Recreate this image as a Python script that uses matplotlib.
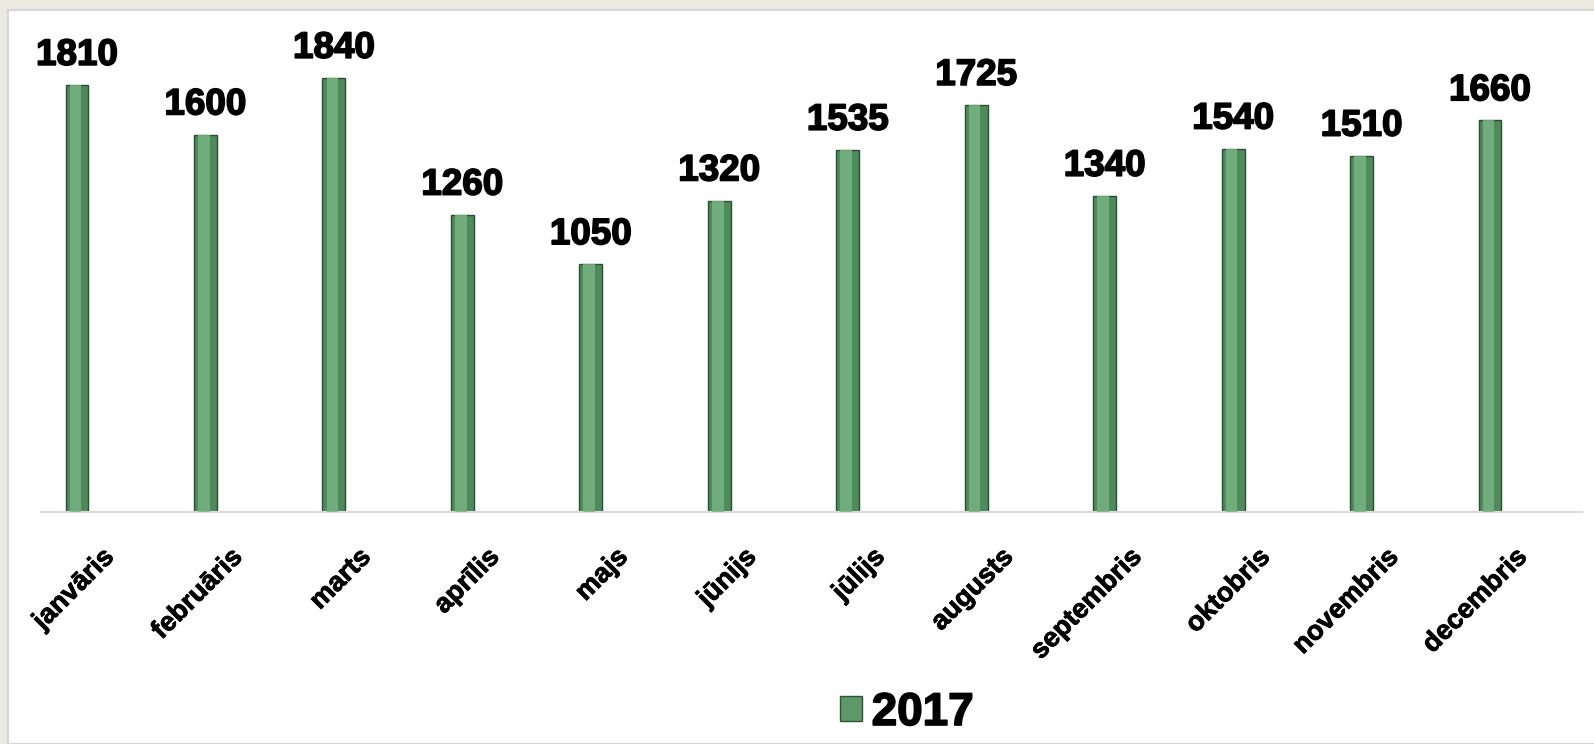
import numpy as np
import matplotlib.pyplot as plt
import matplotlib.patheffects as pe
from matplotlib.patches import Rectangle, Patch
from matplotlib.transforms import ScaledTranslation

# dati
menesi = ['janvāris', 'februāris', 'marts', 'aprīlis', 'majs', 'jūnijs',
          'jūlijs', 'augusts', 'septembris', 'oktobris', 'novembris', 'decembris']
vertibas = [1810, 1600, 1840, 1260, 1050, 1320, 1535, 1725, 1340, 1540, 1510, 1660]
gads = '2017'

plt.rcParams['font.family'] = ['Liberation Sans', 'DejaVu Sans']
trekns = [pe.withStroke(linewidth=1.2, foreground='black')]

fig = plt.figure(figsize=(15.94, 7.44), dpi=100)
fig.patch.set_facecolor('#eaeae0')

# balts laukums ar pelēku maliņu
W, H = 1594.0, 744.0
fig.patches.append(Rectangle((8 / W, 0), 1, 1 - 10 / H, transform=fig.transFigure,
                             facecolor='white', edgecolor='#d6d6d6', linewidth=1.5, zorder=-5))

ax = fig.add_axes([41 / W, 1 - 512 / H, (1582 - 41) / W, (512 - 10) / H])
ax.set_facecolor('none')

x = np.arange(len(menesi))
ax.bar(x, vertibas, width=0.178, color='#4f8a5a', edgecolor='#2a4f30', linewidth=1.0, zorder=2)
# gaišāka svītra, lai izskatās kā cilindrs
ax.bar(x - 0.012, vertibas, width=0.09, color='#78b483', linewidth=0, alpha=0.85, zorder=3)

ax.set_xlim(-0.28, 11.716)
ax.set_ylim(0, (512 - 10) / 0.2359)

for xi, v in zip(x, vertibas):
    ax.annotate(str(v), (xi, v), xytext=(0, 14.5), textcoords='offset points',
                ha='center', va='baseline', fontsize=26.5, fontweight='bold', color='black',
                path_effects=trekns)

for s in ['top', 'right', 'left']:
    ax.spines[s].set_visible(False)
ax.spines['bottom'].set_color('#d9d9d9')
ax.spines['bottom'].set_linewidth(1.5)
ax.set_yticks([])
ax.set_xticks(x)
ax.set_xticklabels(menesi, rotation=45, ha='right', va='top', rotation_mode='anchor',
                   fontsize=19.5, fontweight='bold')
ax.tick_params(axis='x', length=0, pad=0)
nobide = ScaledTranslation(0.24, -0.32, fig.dpi_scale_trans)
for lbl in ax.get_xticklabels():
    lbl.set_transform(lbl.get_transform() + nobide)
    lbl.set_path_effects([pe.withStroke(linewidth=0.6, foreground='black')])

leg = fig.legend(handles=[Patch(facecolor='#5e9868', edgecolor='#2e5533')], labels=[gads],
                 loc='center', bbox_to_anchor=(907 / W, 1 - 713 / H), frameon=False,
                 prop={'size': 33, 'weight': 'bold'}, handlelength=0.47, handleheight=0.47,
                 handletextpad=0.22)
for t in leg.get_texts():
    t.set_path_effects(trekns)

fig.savefig('out.png', dpi=100, facecolor=fig.get_facecolor())
